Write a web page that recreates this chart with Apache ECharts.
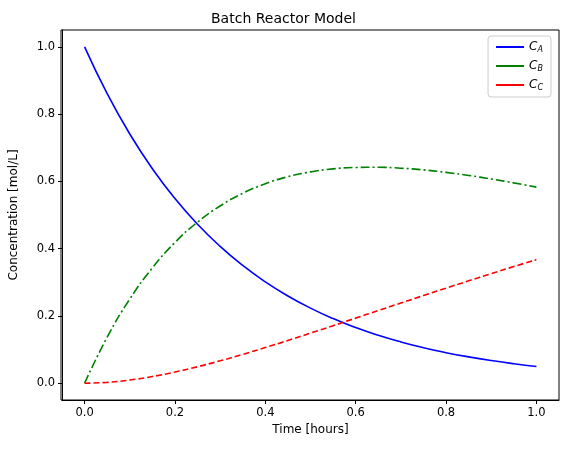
<!DOCTYPE html><html><head><meta charset="utf-8"><script src="https://cdn.jsdelivr.net/npm/echarts@6/dist/echarts.min.js"></script>
<style>html,body{margin:0;padding:0;background:#fff}#c{width:567px;height:454px}</style></head><body><div id="c"></div><script>
const time=[0,0.05,0.1,0.15,0.2,0.25,0.3,0.35,0.4,0.45,0.5,0.55,0.6,0.65,0.7,0.75,0.8,0.85,0.9,0.95,1];
const cA=[1,0.8607,0.7408,0.6376,0.5488,0.4724,0.4066,0.3499,0.3012,0.2592,0.2231,0.1920,0.1653,0.1423,0.1225,0.1054,0.0907,0.0781,0.0672,0.0578,0.0498];
const cB=[0,0.1368,0.2499,0.3426,0.4182,0.4788,0.5269,0.5645,0.5929,0.6138,0.6281,0.6371,0.6413,0.6419,0.6392,0.6341,0.6267,0.6176,0.6070,0.5954,0.5828];
const cC=[0,0.0025,0.0093,0.0198,0.0330,0.0488,0.0665,0.0856,0.1059,0.1270,0.1488,0.1709,0.1934,0.2158,0.2383,0.2605,0.2826,0.3043,0.3258,0.3468,0.3674];
const ticks=[0,0.2,0.4,0.6,0.8,1.0];
const F='DejaVu Sans';
const pair=a=>time.map((t,i)=>[t,a[i]]);
const ax=(name,gap)=>({type:'value',min:-0.05,max:1.05,name:name,nameLocation:'middle',nameGap:gap,
 nameTextStyle:{color:'#000',fontSize:12,fontFamily:F},
 axisLine:{show:true,onZero:false,lineStyle:{color:'#000',width:1}},
 axisTick:{show:true,customValues:ticks,length:4,lineStyle:{color:'#000'}},
 axisLabel:{customValues:ticks,color:'#000',fontSize:11.5,fontFamily:F,margin:7,formatter:v=>v.toFixed(1)},
 splitLine:{show:false}});
const chart=echarts.init(document.getElementById('c'),null,{renderer:'canvas'});
const sub={c:{fontStyle:'italic',fontSize:12,fontFamily:F,color:'#000'},s:{fontStyle:'italic',fontSize:8,fontFamily:F,color:'#000',padding:[6,0,0,0]}};
const L=61,T=30,R=8,B=54;
chart.setOption({animation:false,
 title:{text:'Batch Reactor Model',left:'center',top:7,textStyle:{fontSize:14,fontWeight:'normal',color:'#000',fontFamily:F}},
 grid:{left:L,right:R,top:T,bottom:B},
 xAxis:ax('Time [hours]',24),
 yAxis:ax('Concentration [mol/L]',42),
 legend:{orient:'vertical',right:16,top:36,itemWidth:28,itemHeight:2,itemGap:6,
  backgroundColor:'#fff',borderColor:'#ccc',borderWidth:1,borderRadius:3,padding:[5,8,5,8],
  textStyle:{rich:sub},
  formatter:n=>'{c|C}{s|'+n+'}',
  data:['A','B','C'].map(n=>({name:n,icon:'rect'}))},
 series:[
  {name:'A',type:'line',data:pair(cA),smooth:true,showSymbol:false,lineStyle:{color:'#0000ff',width:1.6},itemStyle:{color:'#0000ff'}},
  {name:'B',type:'line',data:pair(cB),smooth:true,showSymbol:false,lineStyle:{color:'#008000',width:1.6,type:[9,3,2,3]},itemStyle:{color:'#008000'}},
  {name:'C',type:'line',data:pair(cC),smooth:true,showSymbol:false,lineStyle:{color:'#ff0000',width:1.6,type:[6,3]},itemStyle:{color:'#ff0000'}}
 ]});
chart.setOption({graphic:[{type:'rect',shape:{x:L,y:T,width:567-L-R,height:454-T-B},style:{fill:'none',stroke:'#000',lineWidth:1},silent:true,z:10}]});
</script></body></html>
